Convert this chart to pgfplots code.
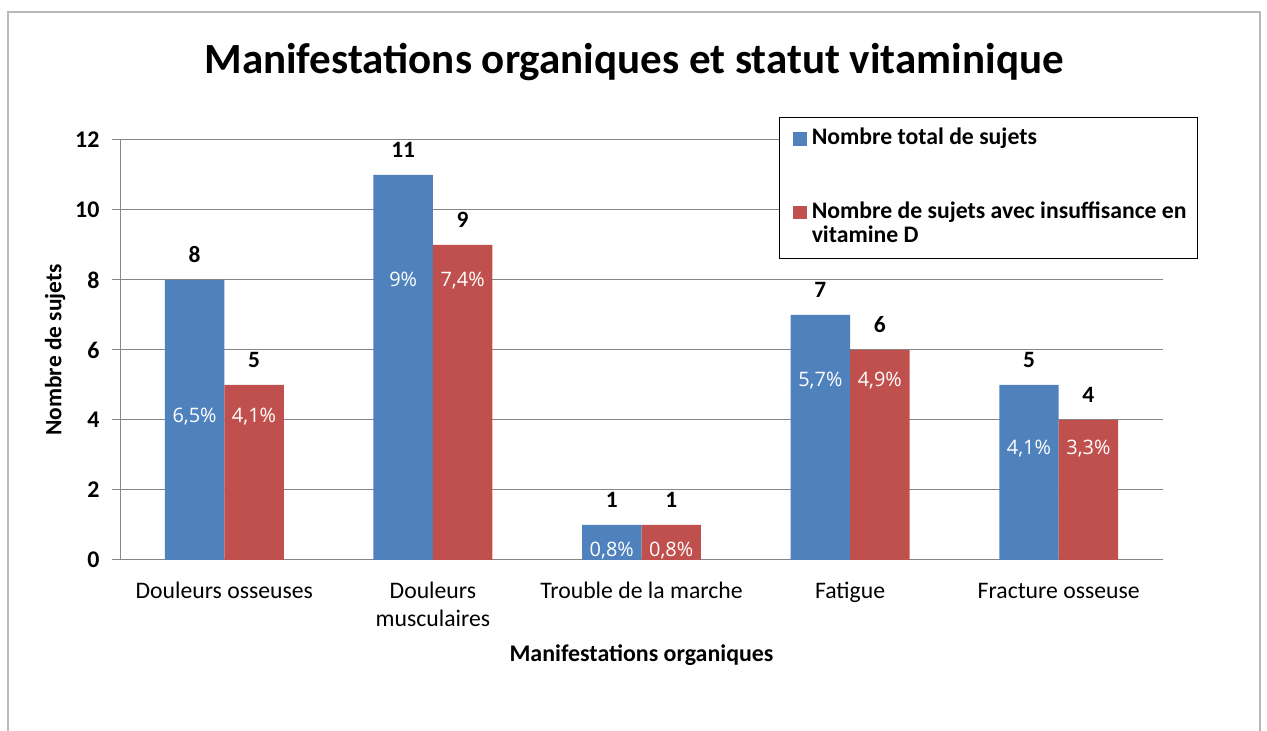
\documentclass[border=0pt]{standalone}
\usepackage{pgfplots}
\pgfplotsset{compat=1.18}
\usepackage{fontspec}
\setmainfont{Carlito}
\newfontfamily\pctfont{Open Sans}
\definecolor{xblue}{RGB}{79,129,189}
\definecolor{xred}{RGB}{192,80,77}
\definecolor{gridgray}{RGB}{134,134,134}
\begin{document}
\begin{tikzpicture}
\useasboundingbox (0,0) rectangle (1267bp,731bp);
\draw[color=gray!55, line width=1.5bp] (8bp,0) -- (8bp,719bp) -- (1260bp,719bp) -- (1260bp,0);
\node[anchor=base, font=\fontsize{43.2}{48}\selectfont\bfseries] at (634bp,657bp) {Manifestations organiques et statut vitaminique};
\begin{axis}[
  at={(120bp,171bp)}, anchor=south west,
  scale only axis, width=1043bp, height=420bp,
  xmin=-0.5, xmax=4.5, ymin=0, ymax=12,
  xtick={0,1,2,3,4},
  xticklabels={\strut Douleurs osseuses, {\strut Douleurs\\musculaires}, \strut Trouble de la marche, \strut Fatigue, \strut Fracture osseuse},
  xticklabel style={align=center, yshift=-8bp, font=\fontsize{23.8}{27.5}\selectfont},
  ytick={0,2,...,12},
  yticklabel style={xshift=-9bp, font=\fontsize{24}{27}\selectfont\bfseries},
  /pgf/number format/assume math mode=true,
  axis lines=left, axis line style={-, draw=gridgray, line width=1bp},
  ymajorgrids, grid style={gridgray, line width=1bp},
  xtick style={draw=none},
  ytick style={gridgray, line width=1bp},
  tick align=outside, major tick length=8bp,
  xlabel={Manifestations organiques},
  xlabel style={at={(axis description cs:0.5,-0.226)}, anchor=center, font=\fontsize{24}{27}\selectfont\bfseries},
  ylabel={Nombre de sujets},
  ylabel style={at={(axis description cs:-0.0623,0.5)}, anchor=center, font=\fontsize{23.5}{27}\selectfont\bfseries},
  legend cell align=left,
  legend style={at={(0.6318,1.0548)}, anchor=north west, draw=black, line width=1.2bp, fill=white,
    inner xsep=6bp, inner ysep=9.25bp, row sep=0pt,
    font=\fontsize{23.8}{27}\selectfont\bfseries,
    nodes={text height=16.5bp, text depth=5bp, inner ysep=1.5bp, inner xsep=5bp}},
]
\addplot[ybar, forget plot, bar width=0.285, bar shift=-0.1425, fill=xblue, draw=none,
  nodes near coords, every node near coord/.append style={anchor=base, xshift=-29.7bp, yshift=17bp, text=black, font=\fontsize{23.5}{27}\selectfont\bfseries}]
  coordinates {(0,8) (1,11) (2,1) (3,7) (4,5)};
\addplot[ybar, forget plot, bar width=0.285, bar shift=0.1425, fill=xred, draw=none,
  nodes near coords, every node near coord/.append style={anchor=base, xshift=29.7bp, yshift=17bp, text=black, font=\fontsize{23.5}{27}\selectfont\bfseries}]
  coordinates {(0,5) (1,9) (2,1) (3,6) (4,4)};
\addplot[forget plot, only marks, mark=none, point meta=explicit symbolic, nodes near coords,
  every node near coord/.append style={anchor=base, text=white, font=\pctfont\fontsize{20}{23}\selectfont}]
  table[meta=label] {
x y label
-0.1425 3.94 6,5\%
0.1425 3.94 4,1\%
0.8575 7.8 9\%
1.1425 7.8 7,4\%
1.8575 0.114 0,8\%
2.1425 0.114 0,8\%
2.8575 4.95 5,7\%
3.1425 4.95 4,9\%
3.8575 3.0 4,1\%
4.1425 3.0 3,3\%
};
\addlegendimage{legend image code/.code={\path (0bp,0bp); \fill[xblue] (7bp,-6bp) rectangle (20bp,6bp);}}
\addlegendentry{Nombre total de sujets}
\addlegendimage{empty legend}
\addlegendentry{}
\addlegendimage{empty legend}
\addlegendentry{}
\addlegendimage{legend image code/.code={\path (0bp,0bp); \fill[xred] (7bp,-6bp) rectangle (20bp,6bp);}}
\addlegendentry{Nombre de sujets avec insuffisance en}
\addlegendimage{empty legend}
\addlegendentry{vitamine D}
\end{axis}
\end{tikzpicture}
\end{document}
